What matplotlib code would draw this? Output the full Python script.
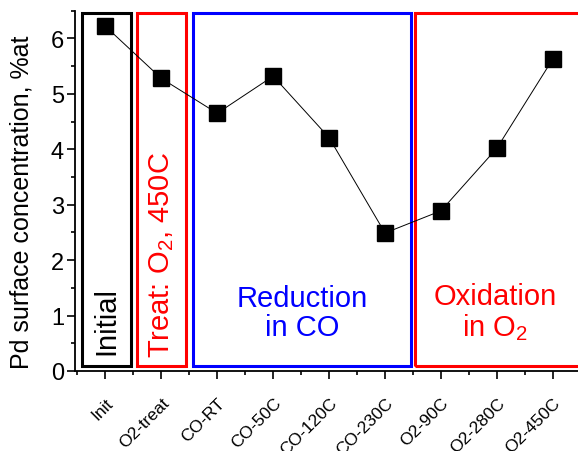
import matplotlib
matplotlib.use("Agg")
import matplotlib.pyplot as plt
from matplotlib.patches import Rectangle
from matplotlib.ticker import MultipleLocator

plt.rcParams['font.family'] = ['Liberation Sans', 'DejaVu Sans']
plt.rcParams['mathtext.fontset'] = 'custom'
plt.rcParams['mathtext.rm'] = 'Liberation Sans'

# data
samples = ['Init', 'O2-treat', 'CO-RT', 'CO-50C', 'CO-120C', 'CO-230C',
           'O2-90C', 'O2-280C', 'O2-450C']
pd_conc = [6.22, 5.28, 4.65, 5.32, 4.21, 2.49, 2.89, 4.02, 5.63]

# stage boxes
stage_x0 = [0.59, 1.57, 2.57, 6.54]
stage_x1 = [1.45, 2.45, 6.46, 9.6]
stage_colors = ['black', 'red', 'blue', 'red']

fig = plt.figure(figsize=(5.78, 4.52), dpi=100)
ax = fig.add_axes([0.13, 0.177, 0.87, 0.797])

x = list(range(1, len(samples) + 1))
ax.plot(x, pd_conc, '-', color='black', lw=0.7, marker='s', ms=11.5,
        mfc='black', mec='black', zorder=3)

for x0, x1, c in zip(stage_x0, stage_x1, stage_colors):
    ax.add_patch(Rectangle((x0, 0.09), x1 - x0, 6.37, fill=False,
                           ec=c, lw=2.2, zorder=2, clip_on=False))

ax.text(1.02, 0.3, 'Initial', rotation=90, color='black', fontsize=21,
        ha='center', va='bottom')
ax.text(2.01, 0.25, 'Treat: O$_2$, 450C', rotation=90, color='red', fontsize=21,
        ha='center', va='bottom')
ax.text(4.52, 1.06, 'Reduction\nin CO', color='blue', fontsize=21,
        ha='center', va='center', linespacing=1.05)
ax.text(7.97, 1.06, 'Oxidation\nin O$_2$', color='red', fontsize=21,
        ha='center', va='center', linespacing=1.05)

ax.set_xlim(0.46, 9.45)
ax.set_ylim(0, 6.5)
ax.set_xticks(x)
ax.set_xticklabels(samples, rotation=45, ha='right', rotation_mode='anchor',
                   fontsize=12.5)
ax.xaxis.set_minor_locator(MultipleLocator(0.5))
ax.yaxis.set_major_locator(MultipleLocator(1))
ax.yaxis.set_minor_locator(MultipleLocator(0.5))
ax.tick_params(axis='y', which='major', direction='out', length=6, width=1.2,
               labelsize=17, pad=2)
ax.tick_params(axis='y', which='minor', direction='out', length=3, width=1.2)
ax.tick_params(axis='x', which='major', direction='out', length=6, width=1.2,
               pad=11)
ax.tick_params(axis='x', which='minor', direction='out', length=3, width=1.2)
ax.spines['top'].set_visible(False)
ax.spines['right'].set_visible(False)
ax.spines['left'].set_linewidth(1.3)
ax.spines['bottom'].set_linewidth(1.3)
ax.set_ylabel('Pd surface concentration, %at', fontsize=18, labelpad=3)
ax.yaxis.set_label_coords(-0.082, 0.47)

fig.savefig('out.png', dpi=100)
